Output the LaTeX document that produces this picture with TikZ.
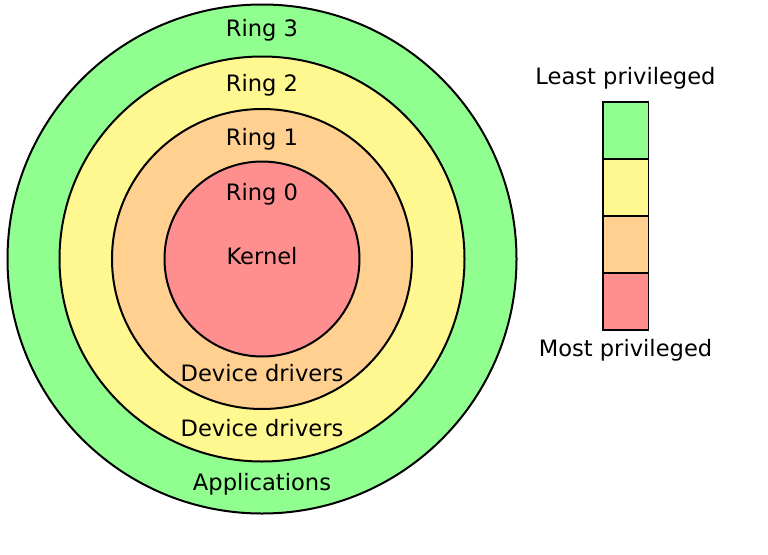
\documentclass[tikz,border=0pt]{standalone}
\usepackage{fontspec}
\setmainfont{DejaVu Sans}
\usepackage{tikz}
\definecolor{ringThree}{HTML}{90FF90}
\definecolor{ringTwo}{HTML}{FFF790}
\definecolor{ringOne}{HTML}{FFD090}
\definecolor{ringZero}{HTML}{FF8F8F}
\tikzset{
  ring/.style={draw,line width=2pt},
  ring label/.style={anchor=base,inner sep=0pt,font=\fontsize{22.6}{27}\selectfont},
  legend box/.style={draw,line width=1.6pt},
}

\begin{document}
\begin{tikzpicture}[x=1pt,y=-1pt]
\useasboundingbox (0,0) rectangle (768,554);
% rings, outside in
\foreach \r/\c in {254.5/ringThree,202.5/ringTwo,150/ringOne,97.5/ringZero} {
  \draw[ring,fill=\c] (262,259) circle[radius=\r];
}
\node[ring label] (ring3) at (262,36) {Ring 3};
\node[ring label] (ring2) at (262,91) {Ring 2};
\node[ring label] (ring1) at (262,145) {Ring 1};
\node[ring label] (ring0) at (262,200) {Ring 0};
\node[ring label] (kernel) at (262,264) {Kernel};
\node[ring label] (drivers1) at (262,381.5) {Device drivers};
\node[ring label] (drivers2) at (262,436.5) {Device drivers};
\node[ring label] (apps) at (262,490) {Applications};
% legend
\foreach \c [count=\i from 0] in {ringThree,ringTwo,ringOne,ringZero} {
  \draw[legend box,fill=\c] (603,{101.7+57*\i}) rectangle ++(45.5,57);
}
\node[ring label] (least) at (625.5,84) {Least privileged};
\node[ring label] (most) at (625.5,356) {Most privileged};
\end{tikzpicture}
\end{document}
